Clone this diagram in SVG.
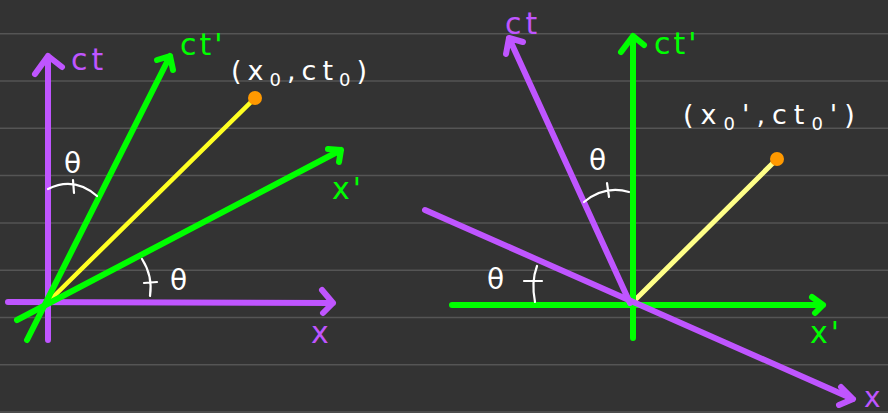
<svg xmlns="http://www.w3.org/2000/svg" width="888" height="413" viewBox="0 0 888 413">
<style>
.rule{stroke:#555555;stroke-width:1.5}
.ax{fill:none;stroke-width:6;stroke-linecap:round;stroke-linejoin:round}
.p{stroke:#bf55ff}
.g{stroke:#00ff00}
.hand{fill:none;stroke:#ffffff;stroke-width:2.2;stroke-linecap:round}
.t{font-family:"DejaVu Sans","Liberation Sans",sans-serif}
.lp{fill:#bf55ff;font-size:30px;letter-spacing:4px}
.lg{fill:#00ff00;font-size:30px;letter-spacing:3px}
.lw{fill:#ffffff;font-size:27px;letter-spacing:6px}
.th{fill:#ffffff;font-size:28px}
</style>
<rect width="888" height="413" fill="#333333"/>
<g id="rules">
<line class="rule" x1="0" y1="33.7" x2="888" y2="33.7"/>
<line class="rule" x1="0" y1="81" x2="888" y2="81"/>
<line class="rule" x1="0" y1="128.3" x2="888" y2="128.3"/>
<line class="rule" x1="0" y1="175.6" x2="888" y2="175.6"/>
<line class="rule" x1="0" y1="222.9" x2="888" y2="222.9"/>
<line class="rule" x1="0" y1="270.2" x2="888" y2="270.2"/>
<line class="rule" x1="0" y1="317.5" x2="888" y2="317.5"/>
<line class="rule" x1="0" y1="364.8" x2="888" y2="364.8"/>
<line class="rule" x1="0" y1="412.1" x2="888" y2="412.1"/>
</g>
<g id="left-diagram">
<g id="left-axes">
<line x1="48" y1="302" x2="255" y2="98" stroke="#ffff22" stroke-width="4.5" stroke-linecap="round"/>
<path class="ax p" d="M48,340 L48,56 M35,74 L48,56 L62,67"/>
<path class="ax p" d="M8,302 L333,303 M322,290 L333,303 L323,313"/>
<path class="ax g" d="M27,340 L170,56 M157,60 L170,56 L173,70"/>
<path class="ax g" d="M17,320 L341,150 M328,149 L341,150 L339,162"/>
<circle cx="255" cy="98" r="7" fill="#ff9900"/>
</g>
<g id="left-labels">
<text class="t lp" x="71" y="70">ct</text>
<text class="t lp" x="311" y="343">x</text>
<text class="t lg" x="180" y="55">ct'</text>
<text class="t lg" x="332" y="199">x'</text>
<text class="t lw" x="231" y="80">(x<tspan dy="6" font-size="18">0</tspan><tspan dy="-6">,ct</tspan><tspan dy="6" font-size="18">0</tspan><tspan dy="-6">)</tspan></text>
<text class="t th" x="64" y="173">θ</text>
<text class="t th" x="170" y="290">θ</text>
<path class="hand" d="M48,189 Q74,176 97,196 M73,180 L74,193"/>
<path class="hand" d="M142,259 Q153,276 150,296 M144,283 L157,282"/>
</g>
</g>
<g id="right-diagram">
<g id="right-axes">
<line x1="632" y1="303" x2="777" y2="159" stroke="#ffff88" stroke-width="5" stroke-linecap="round"/>
<path class="ax g" d="M633,338 L633,36 M621,52 L633,36 L644,45"/>
<path class="ax g" d="M452,305 L823,305 M812,297 L823,305 L815,313"/>
<path class="ax p" d="M630,303 L509,38 M506,54 L509,38 L523,42"/>
<path class="ax p" d="M425,210 L853,399 M841,387 L853,399 L839,405"/>
<circle cx="777" cy="159" r="7" fill="#ff9900"/>
</g>
<g id="right-labels">
<text class="t lp" x="505" y="34">ct</text>
<text class="t lp" x="864" y="407" style="font-size:28px;letter-spacing:0">x</text>
<text class="t lg" x="654" y="54">ct'</text>
<text class="t lg" x="810" y="343">x'</text>
<text class="t lw" x="683" y="124" style="letter-spacing:7px">(x<tspan dy="6" font-size="18">0</tspan><tspan dy="-6">',ct</tspan><tspan dy="6" font-size="18">0</tspan><tspan dy="-6">')</tspan></text>
<text class="t th" x="589" y="170">θ</text>
<text class="t th" x="487" y="289">θ</text>
<path class="hand" d="M584,202 Q605,185 629,192 M607,183 L609,197"/>
<path class="hand" d="M537,266 Q531,282 535,302 M524,281 L542,281"/>
</g>
</g>
</svg>
